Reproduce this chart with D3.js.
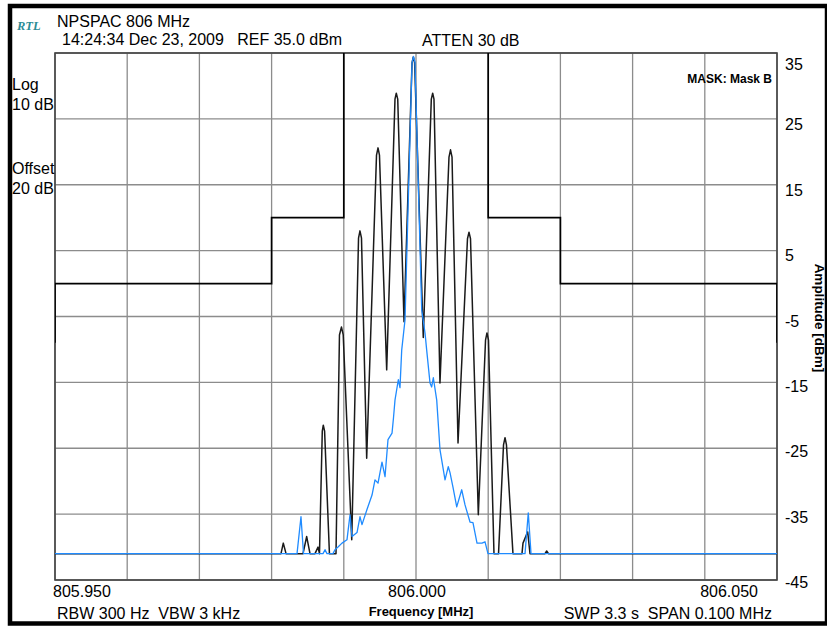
<!DOCTYPE html>
<html>
<head>
<meta charset="utf-8">
<script src="https://cdn.jsdelivr.net/npm/d3@7"></script>
<style>
body{margin:0;background:#fff;}
text{font-family:"Liberation Sans",Arial,sans-serif;fill:#000;}
</style>
</head>
<body>
<script>
let w = 827;
let h = 626;

// amplitude ticks (dBm) and frequency labels (MHz)
let yTicks = [35, 25, 15, 5, -5, -15, -25, -35, -45];
let xLabels = [805.950, 806.000, 806.050];

// limit mask, offsets in kHz from 806.000 MHz
let maskKHz   = [-50, -50, -20, -20, -10, -10, 10, 10, 20, 20, 50, 50];
let maskLevel = [-9, 0, 0, 10, 10, 40, 40, 10, 10, 0, 0, -9];

// max hold trace (black)
let holdKHz = [-50, -18.7, -18.38, -18.0, -15.65, -15.14, -14.68, -13.99, -13.57, -13.37,
  -12.98, -12.84, -12.66, -11.99, -11.08, -10.6, -10.32, -10.08, -8.9, -7.96, -7.76, -7.55,
  -6.83, -5.47, -5.26, -5.06, -4.06, -2.91, -2.73, -2.53, -1.66, -0.55, -0.37, -0.19, 1.01,
  2.12, 2.31, 2.49, 3.32, 4.57, 4.78, 4.99, 5.82, 7.13, 7.34, 7.55, 8.63, 9.63, 9.83, 10.04,
  10.8, 11.43, 12.12, 12.33, 12.53, 13.43, 14.68, 14.82, 15.47, 15.79, 17.87, 18.1, 18.35, 50];
let holdLevel = [-41, -41, -39.4, -41, -41, -38.4, -41, -41, -40.0, -41,
  -22.4, -21.5, -22.4, -41, -41, -7.8, -6.6, -7.8, -38.9, 6.9, 8.0, 6.9,
  -26.5, 19.5, 20.6, 19.5, -13.1, 28.0, 28.9, 28.0, -5.8, 33.5, 34.4, 33.5, -8.2,
  28.0, 28.9, 28.0, -15.1, 19.2, 20.3, 19.2, -24.2, 6.8, 7.8, 6.8, -35.1, -8.6, -7.5, -8.6,
  -41, -41, -24.5, -23.4, -24.5, -41, -41, -39.4, -37.7, -41, -41, -40.6, -41, -41];

// live trace (blue)
let liveKHz = [-50, -16.48, -15.93, -15.58, -12.88, -12.6, -12.33, -11.5, -11.22, -10.8,
  -10.25, -9.56, -9.14, -8.86, -8.17, -7.76, -7.48, -6.79, -6.09, -5.68, -5.26, -4.71,
  -4.29, -3.88, -3.32, -3.12, -2.91, -2.45, -2.22, -1.98, -1.52, -0.55, -0.35, -0.14,
  0.79, 1.25, 1.48, 1.94, 2.17, 2.40, 2.87, 3.32, 4.02, 4.47, 4.71, 5.12, 5.64, 6.33,
  6.79, 7.48, 7.89, 8.45, 9.14, 9.56, 9.97, 15.1, 15.55, 15.93, 50];
let liveLevel = [-41, -41, -35.4, -41, -41, -40.4, -41, -41, -40.4, -40.0,
  -39.4, -38.9, -35.1, -38.4, -37.8, -35.4, -36.6, -34.3, -32.1, -29.8, -30.3, -27.1,
  -29.3, -23.7, -22.7, -20.4, -17.7, -14.6, -15.8, -10.1, -5.5, 33.5, 34.5, 33.6,
  -4.0, -7.5, -10.1, -15.1, -15.7, -14.3, -17.7, -25.2, -29.8, -27.8, -28.7, -30.9, -33.9, -31.3,
  -33.6, -36.2, -36.3, -39.4, -39.4, -39.2, -41, -41, -34.8, -41, -41];

let plotLeft = 55, plotRight = 777, plotTop = 53, plotBottom = 580;

let x = d3.scaleLinear().domain([805.95, 806.05]).range([plotLeft, plotRight]);
let y = d3.scaleLinear().domain([-45, 35]).range([plotBottom, plotTop]);

function toPoints(khz, lvl){
  return khz.map(function(k, i){ return [806 + k / 1000, lvl[i]]; });
}

let viz = d3.select("body")
  .append("svg")
    .attr("width", w)
    .attr("height", h)
    .style("display", "block")
;

viz.append("rect").attr("width", w).attr("height", h).attr("fill", "#fff");

viz.append("defs").append("clipPath").attr("id", "plotclip")
  .append("rect")
    .attr("x", plotLeft).attr("y", plotTop)
    .attr("width", plotRight - plotLeft).attr("height", plotBottom - plotTop);

// grid
viz.append("g").selectAll("line").data(x.ticks(10)).enter()
  .append("line")
    .attr("x1", function(d){ return x(d); })
    .attr("x2", function(d){ return x(d); })
    .attr("y1", plotTop).attr("y2", plotBottom)
    .attr("stroke", "#8c8c8c").attr("stroke-width", 1.3);

viz.append("g").selectAll("line").data(yTicks).enter()
  .append("line")
    .attr("x1", plotLeft).attr("x2", plotRight)
    .attr("y1", function(d){ return y(d); })
    .attr("y2", function(d){ return y(d); })
    .attr("stroke", "#8c8c8c").attr("stroke-width", 1.3);

viz.append("rect")
  .attr("x", plotLeft).attr("y", plotTop)
  .attr("width", plotRight - plotLeft).attr("height", plotBottom - plotTop)
  .attr("fill", "none").attr("stroke", "#444").attr("stroke-width", 1.6);

let line = d3.line()
  .x(function(d){ return x(d[0]); })
  .y(function(d){ return y(d[1]); });

let traces = viz.append("g").attr("clip-path", "url(#plotclip)");

traces.append("path")
  .attr("d", line(toPoints(maskKHz, maskLevel)))
  .attr("fill", "none").attr("stroke", "#000").attr("stroke-width", 1.7);

traces.append("path")
  .attr("d", line(toPoints(holdKHz, holdLevel)))
  .attr("fill", "none").attr("stroke", "#1a1a1a").attr("stroke-width", 1.5)
  .attr("stroke-linejoin", "round");

traces.append("path")
  .attr("d", line(toPoints(liveKHz, liveLevel)))
  .attr("fill", "none").attr("stroke", "#1f8bff").attr("stroke-width", 1.3)
  .attr("stroke-linejoin", "round");

// right amplitude labels
viz.append("g").selectAll("text").data(yTicks).enter()
  .append("text")
    .attr("x", 785)
    .attr("y", function(d, i){ return Math.max(y(d) + 12 - i * 0.5, 70); })
    .attr("font-size", 16)
    .text(function(d){ return d; });

// frequency labels
let xAnchor = ["start", "middle", "end"];
let xShift = [-2, 1, -19];
viz.append("g").selectAll("text").data(xLabels).enter()
  .append("text")
    .attr("x", function(d, i){ return x(d) + xShift[i]; })
    .attr("y", 597)
    .attr("font-size", 16)
    .attr("text-anchor", function(d, i){ return xAnchor[i]; })
    .text(function(d){ return d3.format(".3f")(d); });

function label(tx, ty, str, size, extra){
  let t = viz.append("text")
    .attr("x", tx).attr("y", ty)
    .attr("font-size", size)
    .style("white-space", "pre")
    .text(str);
  if (extra) extra(t);
  return t;
}

label(17, 30, "RTL", 12.5, function(t){
  t.style("font-family", "'Liberation Serif', 'DejaVu Serif', serif")
   .attr("font-style", "italic").attr("font-weight", "bold").style("fill", "#2b8c96");
});
label(57, 27, "NPSPAC 806 MHz", 16);
label(62, 45, "14:24:34 Dec 23, 2009   REF 35.0 dBm", 16);
label(422, 46, "ATTEN 30 dB", 16);

label(12, 90, "Log", 16);
label(12, 110, "10 dB", 16);
label(12, 174, "Offset", 16);
label(12, 194, "20 dB", 16);

label(772, 83, "MASK: Mask B", 12, function(t){
  t.attr("font-weight", "bold").attr("text-anchor", "end");
});

label(57, 619, "RBW 300 Hz  VBW 3 kHz", 16);
label(772, 619, "SWP 3.3 s  SPAN 0.100 MHz", 16, function(t){ t.attr("text-anchor", "end"); });
label(421, 616, "Frequency [MHz]", 13, function(t){
  t.attr("font-weight", "bold").attr("text-anchor", "middle");
});

viz.append("text")
  .attr("transform", "translate(815,318) rotate(90)")
  .attr("font-size", 13.5)
  .attr("font-weight", "bold")
  .attr("text-anchor", "middle")
  .text("Amplitude [dBm]");

// outer frame
viz.append("rect")
  .attr("x", 10).attr("y", 6)
  .attr("width", 817).attr("height", 617.5)
  .attr("fill", "none").attr("stroke", "#000").attr("stroke-width", 4.5);
</script>
</body>
</html>
